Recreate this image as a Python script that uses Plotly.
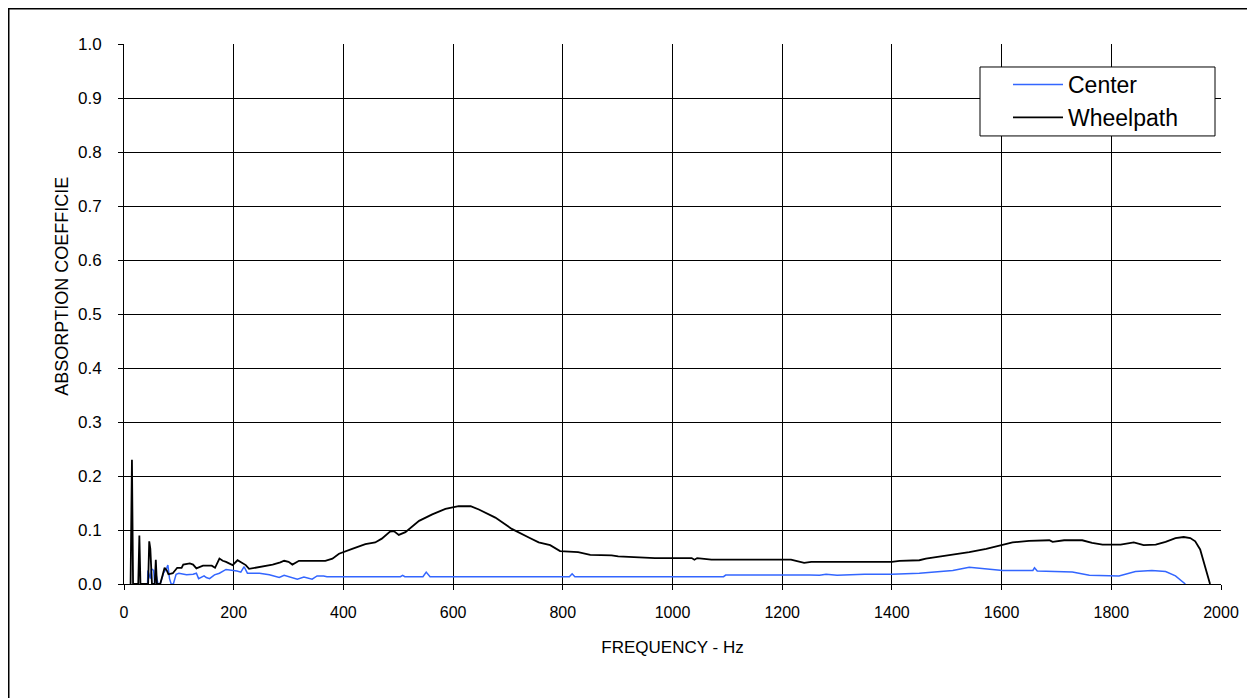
import plotly.graph_objects as go

# Wheelpath series (frequency Hz, absorption coefficient)
wheel_f = [12, 14.5, 16.5, 26, 28, 30, 44, 46, 48, 51, 56, 58, 60, 66, 70, 74, 78, 81, 89, 97,
           105, 108, 120, 126, 132, 144, 160, 166, 174, 180, 186, 198, 207, 216, 222, 228, 247,
           260, 271, 285, 292, 300, 307, 319, 367, 380, 392, 416, 440, 458, 470, 485, 492, 501,
           513, 538, 562, 586, 610, 632, 647, 677, 707, 738, 756, 777, 795, 828, 850, 889, 901,
           968, 1035, 1040, 1045, 1071, 1216, 1240, 1253, 1268, 1400, 1414, 1450, 1462, 1511,
           1541, 1572, 1600, 1620, 1650, 1687, 1693, 1714, 1747, 1765, 1784, 1817, 1841, 1859,
           1881, 1899, 1917, 1932, 1944, 1953, 1962, 1971, 1980]
wheel_v = [0, 0.23, 0, 0, 0.09, 0, 0, 0.079, 0.065, 0, 0, 0.045, 0, 0, 0.015, 0.03, 0.025, 0.018,
           0.02, 0.03, 0.03, 0.036, 0.038, 0.036, 0.029, 0.034, 0.034, 0.03, 0.047, 0.043, 0.041,
           0.035, 0.044, 0.038, 0.035, 0.028, 0.031, 0.033, 0.036, 0.04, 0.043, 0.041, 0.036,
           0.043, 0.043, 0.047, 0.056, 0.065, 0.074, 0.077, 0.084, 0.097, 0.098, 0.091, 0.096,
           0.117, 0.129, 0.139, 0.144, 0.144, 0.138, 0.123, 0.102, 0.086, 0.077, 0.072, 0.061,
           0.059, 0.054, 0.053, 0.051, 0.048, 0.048, 0.045, 0.048, 0.045, 0.045, 0.039, 0.041,
           0.041, 0.041, 0.043, 0.044, 0.047, 0.054, 0.059, 0.065, 0.072, 0.077, 0.080, 0.081,
           0.078, 0.081, 0.081, 0.076, 0.073, 0.073, 0.077, 0.072, 0.073, 0.078, 0.085, 0.087,
           0.085, 0.079, 0.064, 0.033, 0.0]

# Center series
center_f = [43, 43.5, 48, 50, 54, 56, 58, 62, 66, 72, 78, 80, 83, 86, 90, 95, 100, 114, 126, 132,
            136, 140, 146, 150, 156, 165, 174, 186, 198, 206, 213, 219, 225, 247, 265, 283, 292,
            304, 316, 328, 343, 352, 364, 370, 504, 508, 512, 545, 551, 558, 812, 817, 822, 1093,
            1097, 1250, 1268, 1280, 1300, 1350, 1400, 1450, 1511, 1541, 1572, 1602, 1632, 1657,
            1660, 1665, 1729, 1760, 1814, 1844, 1874, 1899, 1917, 1929, 1935]
center_v = [0, 0.025, 0.01, 0.028, 0.025, 0, 0.02, 0, 0, 0.02, 0.03, 0.035, 0.01, 0, 0, 0.018,
            0.02, 0.017, 0.018, 0.02, 0.01, 0.012, 0.015, 0.012, 0.01, 0.017, 0.02, 0.027, 0.026,
            0.024, 0.022, 0.032, 0.02, 0.02, 0.017, 0.012, 0.016, 0.013, 0.009, 0.013, 0.009,
            0.015, 0.015, 0.0135, 0.0135, 0.016, 0.0135, 0.0135, 0.022, 0.0135, 0.0135, 0.019,
            0.0135, 0.0135, 0.0166, 0.0166, 0.016, 0.018, 0.016, 0.018, 0.018, 0.020, 0.025,
            0.031, 0.028, 0.025, 0.025, 0.025, 0.030, 0.024, 0.022, 0.016, 0.015, 0.023, 0.025,
            0.023, 0.015, 0.006, 0.0]

x_ticks = [0, 200, 400, 600, 800, 1000, 1200, 1400, 1600, 1800, 2000]
y_ticks = [0.0, 0.1, 0.2, 0.3, 0.4, 0.5, 0.6, 0.7, 0.8, 0.9, 1.0]

FONT = "Liberation Sans, Arial, sans-serif"

fig = go.Figure()
fig.add_trace(go.Scatter(x=center_f, y=center_v, mode="lines", name="Center",
                         line=dict(color="#3366FF", width=1.5)))
fig.add_trace(go.Scatter(x=wheel_f, y=wheel_v, mode="lines", name="Wheelpath",
                         line=dict(color="#000000", width=1.8)))

# page body has an 8px margin; work in screen pixels and convert
OFF = 8
W, H = 1247, 690
L = 124 - OFF
T = 44 - OFF
pw = 1097
ph = 540.3
R = W - L - pw
B = H - T - ph

def sx(px):  # screen x -> paper x
    return (px - OFF - L) / pw

def sy(py):  # screen y -> paper y
    return (T + ph - (py - OFF)) / ph

fig.update_layout(
    width=W, height=H,
    margin=dict(l=L, r=R, t=T, b=B),
    paper_bgcolor="white", plot_bgcolor="white",
    font=dict(family=FONT, color="black"),
    showlegend=True,
    legend=dict(
        x=sx(1008), y=sy(63), xanchor="left", yanchor="top",
        bgcolor="rgba(0,0,0,0)", borderwidth=0,
        itemwidth=50, tracegroupgap=0,
        font=dict(family=FONT, size=23, color="black"),
    ),
    xaxis=dict(
        range=[0, 2000], tickvals=x_ticks, ticktext=[str(v) for v in x_ticks],
        showgrid=True, gridcolor="#000000", gridwidth=1,
        showline=True, linecolor="black", linewidth=1,
        ticks="outside", ticklen=5, tickcolor="black", ticklabelstandoff=9,
        tickfont=dict(family=FONT, size=16, color="black"),
        title=dict(text="FREQUENCY - Hz", font=dict(family=FONT, size=17, color="black"), standoff=20),
        zeroline=False,
    ),
    yaxis=dict(
        range=[0, 1.0], tickvals=y_ticks, ticktext=[f"{v:.1f}" for v in y_ticks],
        showgrid=True, gridcolor="#000000", gridwidth=1,
        showline=True, linecolor="black", linewidth=1,
        ticks="outside", ticklen=5, tickcolor="black", ticklabelstandoff=13,
        tickfont=dict(family=FONT, size=17, color="black"),
        zeroline=False,
    ),
    annotations=[dict(
        text="ABSORPTION COEFFICIE", textangle=-90, showarrow=False,
        xref="paper", yref="paper", x=sx(62), y=sy(287), xanchor="center", yanchor="middle",
        font=dict(family=FONT, size=18, color="black"),
    )],
    shapes=[
        dict(  # outer frame
            type="rect", xref="paper", yref="paper",
            x0=sx(8.5), x1=sx(1254), y0=sy(710), y1=sy(8.5),
            line=dict(color="black", width=2), fillcolor="rgba(0,0,0,0)", layer="above",
        ),
        dict(  # legend box
            type="rect", xref="paper", yref="paper",
            x0=sx(980), x1=sx(1215), y0=sy(136), y1=sy(67),
            line=dict(color="black", width=1), fillcolor="white", layer="above",
        ),
    ],
)

fig.write_html("out.html")
